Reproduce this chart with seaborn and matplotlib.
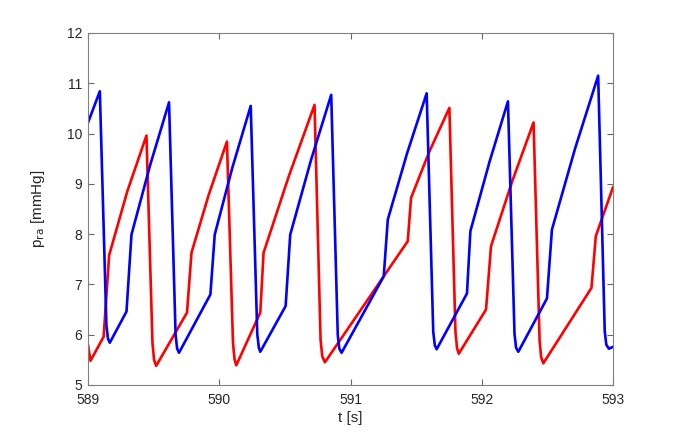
import matplotlib
matplotlib.use("Agg")
import matplotlib.pyplot as plt
import seaborn as sns
import pandas as pd

# Blue trace (time [s], pressure [mmHg])
blue_t = [589.000, 589.091, 589.141, 589.153, 589.167, 589.294, 589.332, 589.475, 589.618,
          589.668, 589.680, 589.694, 589.933, 589.966, 590.100, 590.240,
          590.290, 590.302, 590.313, 590.506, 590.541, 590.700, 590.853,
          590.903, 590.915, 590.932, 591.253, 591.284, 591.430, 591.580,
          591.630, 591.642, 591.656, 591.887, 591.913, 592.060, 592.199,
          592.249, 592.261, 592.278, 592.496, 592.534, 592.710, 592.886,
          592.936, 592.948, 592.968, 593.000]
blue_p = [10.21, 10.84, 6.19, 5.92, 5.84, 6.46, 7.99, 9.38, 10.62,
          5.99, 5.72, 5.64, 6.80, 7.99, 9.32, 10.55,
          6.01, 5.74, 5.66, 6.57, 7.99, 9.48, 10.77,
          5.99, 5.72, 5.64, 7.16, 8.29, 9.60, 10.80,
          6.06, 5.79, 5.71, 6.82, 8.06, 9.45, 10.64,
          6.01, 5.74, 5.66, 6.72, 8.09, 9.70, 11.15,
          6.07, 5.80, 5.72, 5.76]

# Red trace (time [s], pressure [mmHg])
red_t = [589.000, 589.020, 589.120, 589.162, 589.300, 589.446,
         589.492, 589.504, 589.520, 589.755, 589.789, 589.920, 590.059,
         590.105, 590.117, 590.130, 590.313, 590.338, 590.530, 590.726,
         590.772, 590.785, 590.805, 591.436, 591.461, 591.600, 591.753,
         591.799, 591.811, 591.824, 592.032, 592.070, 592.230, 592.394,
         592.440, 592.452, 592.468, 592.835, 592.868, 593.000]
red_p = [5.81, 5.48, 5.96, 7.58, 8.85, 9.96,
         5.83, 5.50, 5.38, 6.44, 7.63, 8.78, 9.84,
         5.84, 5.51, 5.39, 6.44, 7.63, 9.15, 10.57,
         5.90, 5.57, 5.45, 7.86, 8.72, 9.64, 10.51,
         6.07, 5.74, 5.62, 6.50, 7.76, 9.04, 10.22,
         5.88, 5.55, 5.43, 6.93, 7.96, 8.94]

x_ticks = [589, 590, 591, 592, 593]
y_ticks = [5, 6, 7, 8, 9, 10, 11, 12]

sns.set_style("white")
plt.rcParams['font.family'] = ['Liberation Sans', 'DejaVu Sans']

fig = plt.figure(figsize=(6.76, 4.34), dpi=100)
ax = fig.add_axes([0.130, 0.113, 0.777, 0.811])

df_red = pd.DataFrame({"t": red_t, "p": red_p})
df_blue = pd.DataFrame({"t": blue_t, "p": blue_p})
sns.lineplot(data=df_red, x="t", y="p", ax=ax, color=(1, 0, 0), lw=1.9,
             sort=False, estimator=None)
sns.lineplot(data=df_blue, x="t", y="p", ax=ax, color=(0, 0, 1), lw=1.9,
             sort=False, estimator=None)
for ln in ax.get_lines():
    ln.set_solid_joinstyle('round')
    ln.set_solid_capstyle('round')

ax.set_xlim(589, 593)
ax.set_ylim(5, 12)
ax.set_xticks(x_ticks)
ax.set_yticks(y_ticks)
ax.set_xticklabels([str(v) for v in x_ticks])
ax.set_yticklabels([str(v) for v in y_ticks])

grey = (0.15, 0.15, 0.15)
for s in ax.spines.values():
    s.set_color((0.5, 0.5, 0.5))
    s.set_linewidth(0.8)
    s.set_visible(True)
ax.tick_params(direction='in', length=4, width=0.8, color=(0.4, 0.4, 0.4),
               labelsize=10, labelcolor=grey, top=True, right=True,
               left=True, bottom=True, pad=4)
ax.tick_params(axis='x', pad=6)

ax.set_xlabel("t [s]", fontsize=11, color=grey, labelpad=3)
ax.set_ylabel("p$_{\\mathrm{ra}}$ [mmHg]", fontsize=11, color=grey, labelpad=14)

fig.savefig("out.png", dpi=100)
